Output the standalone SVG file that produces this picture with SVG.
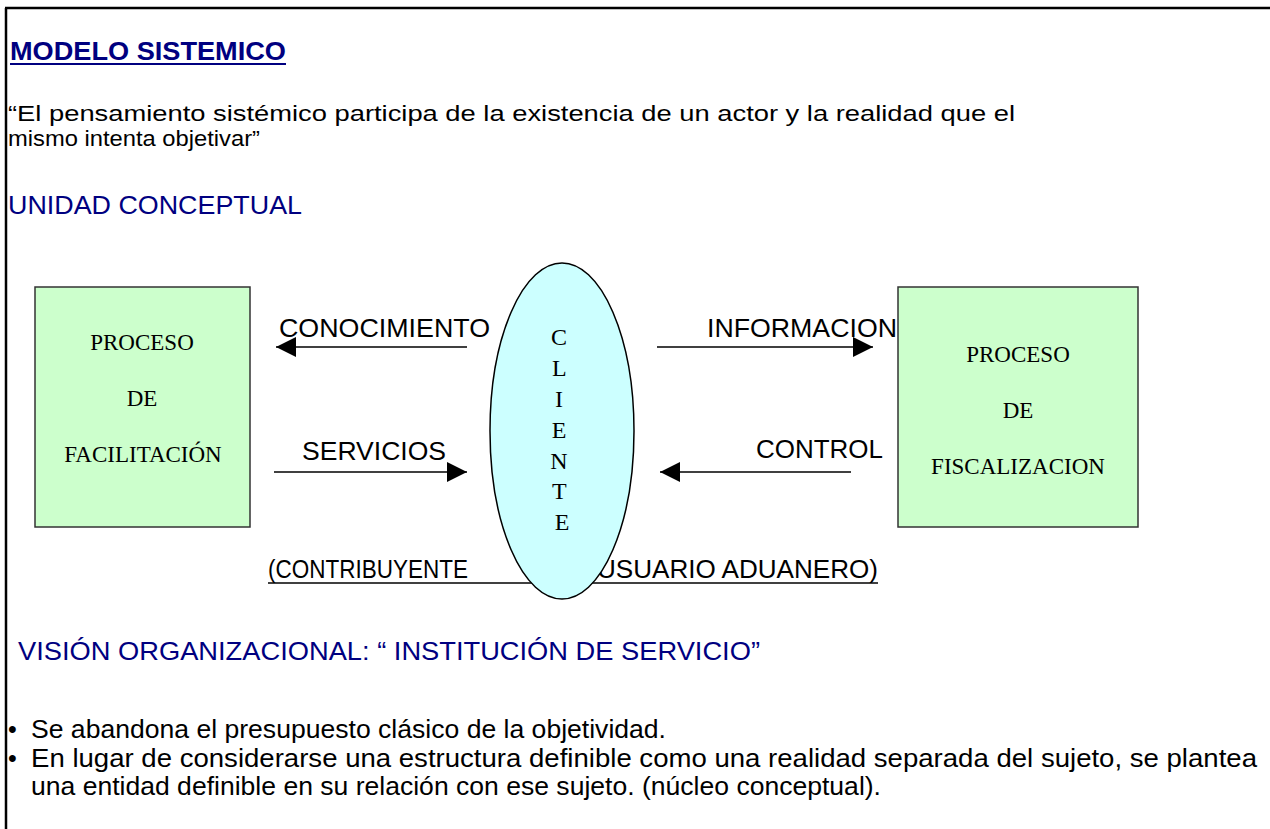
<svg xmlns="http://www.w3.org/2000/svg" width="1270" height="829" viewBox="0 0 1270 829">
<style>
.sans{font-family:"Liberation Sans",Arial,sans-serif}
.serif{font-family:"Liberation Serif","Times New Roman",serif}
.navy{fill:#000080}
.body{font-size:22px;fill:#000}
.bot{font-size:25px;fill:#000}
.lbl{font-size:26px;fill:#000}
.btxt{font-size:23px;fill:#000}
.box{fill:#CCFFCC;stroke:#333;stroke-width:1.5}
.ell{fill:#CCFFFF;stroke:#000;stroke-width:1.5}
.conn{stroke:#000;stroke-width:1.5;fill:none}
.frame{stroke:#000;stroke-width:2.5}
</style>
<defs>
<marker id="ah" markerUnits="userSpaceOnUse" markerWidth="20" markerHeight="20" viewBox="0 0 20 20" refX="20" refY="10" orient="auto">
<path d="M0,0 L20,10 L0,20 Z" fill="#000"/>
</marker>
</defs>
<rect x="0" y="0" width="1270" height="829" fill="#fff"/>
<g id="frame">
<line class="frame" x1="5" y1="8" x2="1270" y2="8"/>
<line class="frame" x1="6" y1="8" x2="6" y2="829"/>
</g>
<g id="header">
<text class="sans navy" x="10" y="60" font-size="25" font-weight="bold" textLength="276" lengthAdjust="spacingAndGlyphs">MODELO SISTEMICO</text>
<line x1="10" y1="64" x2="286" y2="64" stroke="#000080" stroke-width="2"/>
<text class="sans body" x="8" y="121" textLength="1007" lengthAdjust="spacingAndGlyphs">“El pensamiento sistémico participa de la existencia de un actor y la realidad que el</text>
<text class="sans body" x="8" y="146" textLength="252" lengthAdjust="spacingAndGlyphs">mismo intenta objetivar”</text>
<text class="sans navy" x="8" y="214" font-size="25" textLength="294" lengthAdjust="spacingAndGlyphs">UNIDAD CONCEPTUAL</text>
</g>
<g id="contribuyente-label">
<text class="sans lbl" y="578"><tspan x="268" textLength="200" lengthAdjust="spacingAndGlyphs">(CONTRIBUYENTE</tspan><tspan x="597" textLength="281" lengthAdjust="spacingAndGlyphs">USUARIO ADUANERO)</tspan></text>
<line x1="268" y1="583" x2="878" y2="583" stroke="#000" stroke-width="1.5"/>
</g>
<g id="connectors">
<line class="conn" x1="467" y1="347" x2="276" y2="347" marker-end="url(#ah)"/>
<line class="conn" x1="274" y1="472" x2="467" y2="472" marker-end="url(#ah)"/>
<line class="conn" x1="657" y1="347" x2="873" y2="347" marker-end="url(#ah)"/>
<line class="conn" x1="851" y1="472" x2="660" y2="472" marker-end="url(#ah)"/>
<text class="sans lbl" x="279" y="337" textLength="211" lengthAdjust="spacingAndGlyphs">CONOCIMIENTO</text>
<text class="sans lbl" x="302" y="460" textLength="144" lengthAdjust="spacingAndGlyphs">SERVICIOS</text>
<text class="sans lbl" x="707" y="337" textLength="190" lengthAdjust="spacingAndGlyphs">INFORMACION</text>
<text class="sans lbl" x="756" y="458" textLength="127" lengthAdjust="spacingAndGlyphs">CONTROL</text>
</g>
<g id="facilitacion">
<rect class="box" x="35" y="287" width="215" height="240"/>
<text class="serif btxt" text-anchor="middle" x="142" y="350">PROCESO</text>
<text class="serif btxt" text-anchor="middle" x="142" y="406">DE</text>
<text class="serif btxt" text-anchor="middle" x="143" y="462">FACILITACIÓN</text>
</g>
<g id="fiscalizacion">
<rect class="box" x="898" y="287" width="240" height="240"/>
<text class="serif btxt" text-anchor="middle" x="1018" y="362">PROCESO</text>
<text class="serif btxt" text-anchor="middle" x="1018" y="418">DE</text>
<text class="serif btxt" text-anchor="middle" x="1018" y="474">FISCALIZACION</text>
</g>
<g id="cliente">
<ellipse class="ell" cx="562" cy="431" rx="72" ry="168"/>
<text class="serif" font-size="24" text-anchor="middle" fill="#000">
<tspan x="562" y="345">C</tspan>
<tspan x="562" y="376">L</tspan>
<tspan x="562" y="407">I</tspan>
<tspan x="562" y="438">E</tspan>
<tspan x="562" y="469">N</tspan>
<tspan x="562" y="499">T</tspan>
<tspan x="562" y="530">E</tspan>
</text>
</g>
<g id="vision">
<text class="sans navy" x="18" y="660" font-size="25" textLength="742" lengthAdjust="spacingAndGlyphs">VISIÓN ORGANIZACIONAL:  “ INSTITUCIÓN DE SERVICIO”</text>
<text class="sans bot" x="8" y="738">•</text>
<text class="sans bot" x="31" y="738" textLength="635" lengthAdjust="spacingAndGlyphs">Se abandona el presupuesto clásico de la objetividad.</text>
<text class="sans bot" x="8" y="767">•</text>
<text class="sans bot" x="31" y="767" textLength="1226" lengthAdjust="spacingAndGlyphs">En lugar de considerarse una estructura definible como una realidad separada del sujeto, se plantea</text>
<text class="sans bot" x="31" y="795" textLength="850" lengthAdjust="spacingAndGlyphs">una entidad definible en su relación con ese sujeto. (núcleo conceptual).</text>
</g>
</svg>
